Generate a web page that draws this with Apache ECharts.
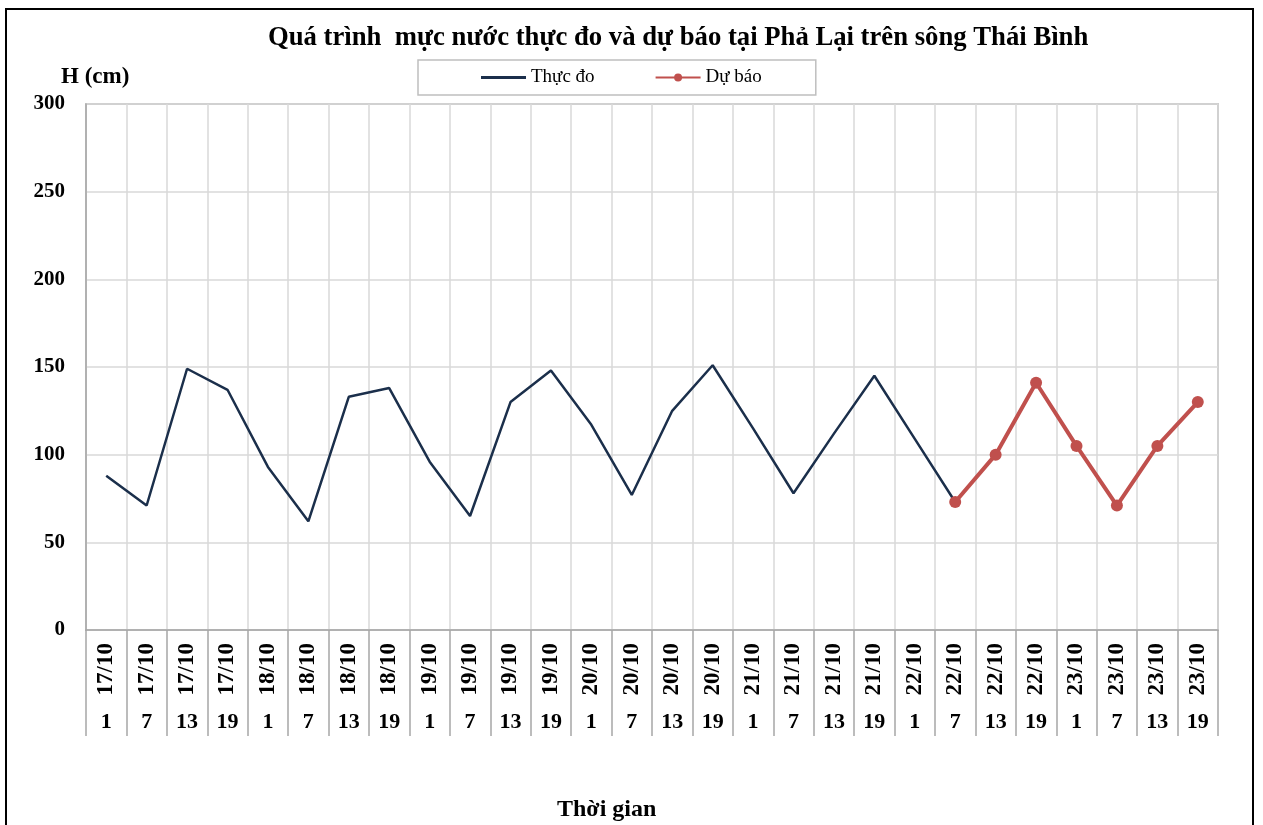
<!DOCTYPE html>
<html>
<head>
<meta charset="utf-8">
<script src="https://cdn.jsdelivr.net/npm/echarts@6/dist/echarts.min.js"></script>
<style>
html,body{margin:0;padding:0;background:#fff;}
#chart{width:1263px;height:825px;}
</style>
</head>
<body>
<div id="chart"></div>
<script>
// ---- data ----
const dates = ['17/10','17/10','17/10','17/10','18/10','18/10','18/10','18/10','19/10','19/10','19/10','19/10',
               '20/10','20/10','20/10','20/10','21/10','21/10','21/10','21/10','22/10','22/10','22/10','22/10',
               '23/10','23/10','23/10','23/10'];
const hours = ['1','7','13','19','1','7','13','19','1','7','13','19','1','7','13','19','1','7','13','19','1','7','13','19','1','7','13','19'];
const observed = [88, 71, 149, 137, 93, 62, 133, 138, 96, 65, 130, 148, 117, 77, 125, 151, 115, 78, 112, 145, 109, 73,
                  null, null, null, null, null, null];
const forecast = [null, null, null, null, null, null, null, null, null, null, null, null, null, null, null, null,
                  null, null, null, null, null, 73, 100, 141, 105, 71, 105, 130];
const yTicks = [0, 50, 100, 150, 200, 250, 300];

const categories = dates.map((d, i) => d + '|' + hours[i]);
const FONT = "'Liberation Serif', 'Times New Roman', serif";

const chart = echarts.init(document.getElementById('chart'), null, {renderer: 'canvas'});
chart.setOption({
  backgroundColor: '#ffffff',
  animation: false,
  title: [
    {
      text: 'Quá trình  mực nước thực đo và dự báo tại Phả Lại trên sông Thái Bình',
      left: 263, top: 20,
      textStyle: {fontFamily: FONT, fontWeight: 'bold', fontSize: 26.7, color: '#000'}
    },
    {
      text: 'H (cm)',
      left: 56, top: 61,
      textStyle: {fontFamily: FONT, fontWeight: 'bold', fontSize: 23, color: '#000'}
    },
    {
      text: 'Thời gian',
      left: 552, top: 793,
      textStyle: {fontFamily: FONT, fontWeight: 'bold', fontSize: 24, color: '#000'}
    }
  ],
  graphic: [{
    type: 'rect',
    shape: {x: 6, y: 9, width: 1247, height: 840},
    style: {fill: 'none', stroke: '#000', lineWidth: 2},
    silent: true
  }],
  legend: {
    left: 418, top: 60,
    padding: [8, 54, 8, 63],
    borderColor: '#bfbfbf', borderWidth: 1.5,
    itemWidth: 45, itemHeight: 10, itemGap: 60,
    textStyle: {fontFamily: FONT, fontSize: 19, color: '#000'},
    data: [
      {name: 'Thực đo', icon: 'path://M0,0 L45,0 L45,3 L0,3 Z'},
      {name: 'Dự báo'}
    ]
  },
  grid: {
    left: 86, right: 45, top: 104, bottom: 195,
    show: true, borderColor: '#a6a6a6', borderWidth: 1.5,
    containLabel: false
  },
  xAxis: [
    {
      type: 'category',
      data: categories,
      boundaryGap: true,
      position: 'bottom',
      axisLine: {show: true, lineStyle: {color: '#a6a6a6', width: 1.5}},
      axisTick: {show: true, interval: 0, length: 106, lineStyle: {color: '#a6a6a6', width: 1.5}},
      splitLine: {show: true, interval: 0, lineStyle: {color: '#d9d9d9', width: 1.5}},
      axisLabel: {
        interval: 0, rotate: 90, margin: 13,
        fontFamily: FONT, fontWeight: 'bold', fontSize: 23, color: '#000',
        formatter: v => v.split('|')[0]
      }
    },
    {
      type: 'category',
      data: categories,
      boundaryGap: true,
      position: 'bottom',
      axisLine: {show: false},
      axisTick: {show: false},
      splitLine: {show: false},
      axisLabel: {
        interval: 0, margin: 81,
        fontFamily: FONT, fontWeight: 'bold', fontSize: 22, color: '#000',
        formatter: v => v.split('|')[1]
      }
    }
  ],
  yAxis: {
    type: 'value',
    min: yTicks[0], max: yTicks[yTicks.length - 1], interval: yTicks[1] - yTicks[0],
    axisLine: {show: true, lineStyle: {color: '#a6a6a6', width: 1.5}},
    axisTick: {show: false},
    splitLine: {show: true, lineStyle: {color: '#d9d9d9', width: 1.5}},
    axisLabel: {margin: 21, fontFamily: FONT, fontWeight: 'bold', fontSize: 21, color: '#000'}
  },
  series: [
    {
      name: 'Thực đo',
      type: 'line',
      xAxisIndex: 0,
      data: observed,
      symbol: 'none',
      connectNulls: false,
      lineStyle: {color: '#1b2f4b', width: 2.5},
      itemStyle: {color: '#1b2f4b'},
      z: 3
    },
    {
      name: 'Dự báo',
      type: 'line',
      xAxisIndex: 0,
      data: forecast,
      symbol: 'circle',
      symbolSize: 12,
      showSymbol: true,
      lineStyle: {color: '#c0504d', width: 4},
      itemStyle: {color: '#c0504d'},
      z: 4
    }
  ]
});
</script>
</body>
</html>
